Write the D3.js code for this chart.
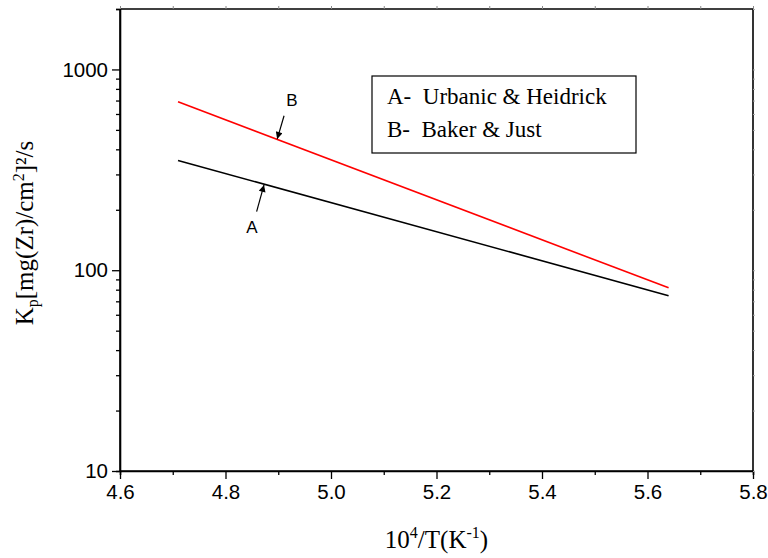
<!DOCTYPE html>
<html>
<head>
<meta charset="utf-8">
<script src="https://cdn.jsdelivr.net/npm/d3@7/dist/d3.min.js"></script>
<style>
  body { margin: 0; background: #fff; }
  svg { display: block; }
</style>
</head>
<body>
<svg id="chart" width="768" height="558"></svg>
<script>
// ---- data ----
const xTicks = [4.6, 4.8, 5.0, 5.2, 5.4, 5.6, 5.8];
const yTicks = [10, 100, 1000];
const seriesNames = ["A", "B"];
const seriesLegend = ["A-  Urbanic & Heidrick", "B-  Baker & Just"];
const seriesColors = ["#000000", "#ff0000"];
const invT = [4.71, 5.64];            // 10^4/T
const kpA = [352, 74.7];              // Urbanic & Heidrick
const kpB = [690, 81.7];              // Baker & Just
// arrow annotations: [label x, label y, tail x, tail y, tip x, tip y] in data units
const arrowA = [4.850, 163, 4.859, 196, 4.873, 266];
const arrowB = [4.926, 700, 4.911, 588, 4.898, 450];

// ---- layout ----
const svg = d3.select("#chart");
const L = 120, R = 753, T = 9, B = 471;
const x = d3.scaleLinear().domain([4.6, 5.8]).range([L, R]);
const y = d3.scaleLog().domain([10, 2000]).range([B, T]);

const minorY = [];
[10, 100, 1000].forEach(d => { for (let k = 2; k <= 9; k++) if (d * k <= 2000) minorY.push(d * k); });
const minorX = d3.range(47, 58, 2).map(v => v / 10);

// bottom axis
const gx = svg.append("g").attr("transform", `translate(0,${B})`)
  .call(d3.axisBottom(x).tickValues(xTicks).tickFormat(d3.format(".1f")).tickSize(8).tickPadding(5));
gx.append("g").call(d3.axisBottom(x).tickValues(minorX).tickSize(4).tickFormat(""));
// left axis
const gy = svg.append("g").attr("transform", `translate(${L},0)`)
  .call(d3.axisLeft(y).tickValues(yTicks).tickFormat(d3.format("d")).tickSize(8).tickPadding(4));
gy.append("g").call(d3.axisLeft(y).tickValues(minorY).tickSize(4).tickFormat(""));
// top axis (mirror ticks)
const gt = svg.append("g").attr("transform", `translate(0,${T})`)
  .call(d3.axisTop(x).tickValues(xTicks.concat(minorX)).tickSize(3).tickFormat(""));
// right axis (mirror ticks)
const gr = svg.append("g").attr("transform", `translate(${R},0)`)
  .call(d3.axisRight(y).tickValues(yTicks.concat(minorY)).tickSize(2).tickFormat(""));

[gx, gy, gt, gr].forEach(g => {
  g.selectAll(".domain").attr("stroke", "#000").attr("stroke-width", 1.6);
  g.selectAll("line").attr("stroke", "#000").attr("stroke-width", 1.3);
  g.selectAll("text").attr("fill", "#000").attr("font-family", "Liberation Sans, Arial, sans-serif").attr("font-size", 20.5);
});
gt.selectAll("line").attr("stroke", "#888").attr("stroke-width", 1);
gr.selectAll("line").attr("stroke", "#aaa").attr("stroke-width", 1);
gt.select(".domain").attr("d", `M${L},0H${R}`);
gr.select(".domain").attr("d", `M0,${T}V${B}`);
gx.select(".domain").attr("d", `M${L},0H${R}`);
gy.select(".domain").attr("d", `M0,${T}V${B}`);

// ---- lines ----
const line = d3.line().x(d => x(d[0])).y(d => y(d[1]));
[kpA, kpB].forEach((vals, i) => {
  svg.append("path")
    .datum(invT.map((t, j) => [t, vals[j]]))
    .attr("d", line)
    .attr("fill", "none")
    .attr("stroke", seriesColors[i])
    .attr("stroke-width", 1.6);
});

// ---- arrows ----
svg.append("defs").append("marker")
  .attr("id", "arrow").attr("viewBox", "0 0 10 10")
  .attr("refX", 10).attr("refY", 5)
  .attr("markerWidth", 13).attr("markerHeight", 7)
  .attr("markerUnits", "userSpaceOnUse")
  .attr("orient", "auto")
  .append("path").attr("d", "M0,0L10,5L0,10z").attr("fill", "#000");

[arrowA, arrowB].forEach((a, i) => {
  svg.append("line")
    .attr("x1", x(a[2])).attr("y1", y(a[3]))
    .attr("x2", x(a[4])).attr("y2", y(a[5]))
    .attr("stroke", "#000").attr("stroke-width", 1.2)
    .attr("marker-end", "url(#arrow)");
  svg.append("text")
    .attr("x", x(a[0])).attr("y", y(a[1]))
    .attr("text-anchor", "middle").attr("dominant-baseline", "central")
    .attr("font-family", "Liberation Sans, Arial, sans-serif").attr("font-size", 17)
    .text(seriesNames[i]);
});

// ---- legend ----
const lg = svg.append("g");
lg.append("rect").attr("x", 372).attr("y", 76).attr("width", 264).attr("height", 77)
  .attr("fill", "#fff").attr("stroke", "#000").attr("stroke-width", 1.2);
seriesLegend.forEach((s, i) => {
  lg.append("text").attr("x", 387).attr("y", 104 + i * 33)
    .attr("font-family", "Liberation Serif, Times New Roman, serif").attr("font-size", 23)
    .style("white-space", "pre").text(s);
});

// ---- axis titles ----
const xt = svg.append("text").attr("x", (L + R) / 2).attr("y", 548)
  .attr("text-anchor", "middle")
  .attr("font-family", "Liberation Serif, Times New Roman, serif").attr("font-size", 25);
xt.append("tspan").text("10");
xt.append("tspan").attr("dy", -10).attr("font-size", 16).text("4");
xt.append("tspan").attr("dy", 10).text("/T(K");
xt.append("tspan").attr("dy", -10).attr("font-size", 16).text("-1");
xt.append("tspan").attr("dy", 10).text(")");

const yt = svg.append("text")
  .attr("transform", "translate(33,233) rotate(-90)")
  .attr("text-anchor", "middle")
  .attr("font-family", "Liberation Serif, Times New Roman, serif").attr("font-size", 25);
yt.append("tspan").text("K");
yt.append("tspan").attr("dy", 5).attr("font-size", 16).text("p");
yt.append("tspan").attr("dy", -5).text("[mg(Zr)/cm");
yt.append("tspan").attr("dy", -9).attr("font-size", 16).text("2");
yt.append("tspan").attr("dy", 9).text("]²/s");
</script>
</body>
</html>
